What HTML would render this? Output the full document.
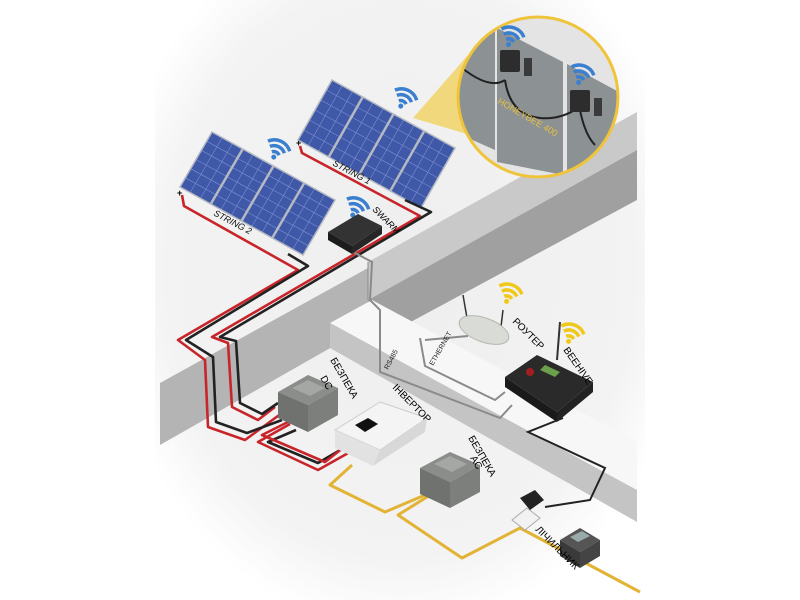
<!DOCTYPE html>
<html><head><meta charset="utf-8"><style>
html,body{margin:0;padding:0;background:#fff}
svg{display:block}
text{font-family:"Liberation Sans","DejaVu Sans",sans-serif}
</style></head><body>
<svg width="800" height="600" viewBox="0 0 800 600" xmlns="http://www.w3.org/2000/svg">
<defs>
<radialGradient id="bg" cx="0.5" cy="0.45" r="0.6">
<stop offset="0" stop-color="#eeeeee"/><stop offset="0.8" stop-color="#f3f3f3"/><stop offset="1" stop-color="#ffffff"/>
</radialGradient>
<g id="wifiB">
<path d="M-12,-2 A16,16 0 0 1 12,-2" fill="none" stroke="#3a7fd0" stroke-width="3.5"/>
<path d="M-8,2 A11,11 0 0 1 8,2" fill="none" stroke="#3a7fd0" stroke-width="3.5"/>
<path d="M-4,6 A6,6 0 0 1 4,6" fill="none" stroke="#3a7fd0" stroke-width="3.5"/>
<circle cx="0" cy="10" r="2.5" fill="#3a7fd0"/>
</g>
<g id="wifiY">
<path d="M-12,-2 A16,16 0 0 1 12,-2" fill="none" stroke="#f0c81a" stroke-width="3.5"/>
<path d="M-8,2 A11,11 0 0 1 8,2" fill="none" stroke="#f0c81a" stroke-width="3.5"/>
<path d="M-4,6 A6,6 0 0 1 4,6" fill="none" stroke="#f0c81a" stroke-width="3.5"/>
<circle cx="0" cy="10" r="2.5" fill="#f0c81a"/>
</g>
<g id="panel">
<rect x="0" y="0" width="1" height="1" fill="#3f58a8"/>
<g stroke="#7d92d0" stroke-width="0.6">
<line x1="0" y1="0.167" x2="1" y2="0.167" vector-effect="non-scaling-stroke"/>
<line x1="0" y1="0.333" x2="1" y2="0.333" vector-effect="non-scaling-stroke"/>
<line x1="0" y1="0.5" x2="1" y2="0.5" vector-effect="non-scaling-stroke"/>
<line x1="0" y1="0.667" x2="1" y2="0.667" vector-effect="non-scaling-stroke"/>
<line x1="0" y1="0.833" x2="1" y2="0.833" vector-effect="non-scaling-stroke"/>
<line x1="0.083" y1="0" x2="0.083" y2="1" vector-effect="non-scaling-stroke"/>
<line x1="0.167" y1="0" x2="0.167" y2="1" vector-effect="non-scaling-stroke"/>
<line x1="0.333" y1="0" x2="0.333" y2="1" vector-effect="non-scaling-stroke"/>
<line x1="0.417" y1="0" x2="0.417" y2="1" vector-effect="non-scaling-stroke"/>
<line x1="0.583" y1="0" x2="0.583" y2="1" vector-effect="non-scaling-stroke"/>
<line x1="0.667" y1="0" x2="0.667" y2="1" vector-effect="non-scaling-stroke"/>
<line x1="0.833" y1="0" x2="0.833" y2="1" vector-effect="non-scaling-stroke"/>
<line x1="0.917" y1="0" x2="0.917" y2="1" vector-effect="non-scaling-stroke"/>
</g>
<g stroke="#b4b9c2" stroke-width="2.5">
<line x1="0.25" y1="0" x2="0.25" y2="1" vector-effect="non-scaling-stroke"/>
<line x1="0.5" y1="0" x2="0.5" y2="1" vector-effect="non-scaling-stroke"/>
<line x1="0.75" y1="0" x2="0.75" y2="1" vector-effect="non-scaling-stroke"/>
<rect x="0" y="0" width="1" height="1" fill="none" vector-effect="non-scaling-stroke" stroke-width="1.5"/>
</g>
</g>
<clipPath id="mag"><circle cx="538" cy="97" r="80"/></clipPath>
</defs>

<rect width="800" height="600" fill="#fff"/>
<rect x="155" y="0" width="490" height="600" fill="url(#bg)"/>

<!-- upper wall -->
<polygon points="368,262 637,112 637,150 368,300" fill="#c9c9c9"/>
<polygon points="368,300 637,150 637,200 368,345" fill="#a0a0a0"/>
<polygon points="160,383 368,268 368,332 332,347 160,445" fill="#b4b4b4"/>
<line x1="368" y1="262" x2="368" y2="300" stroke="#8a8a8a" stroke-width="1"/>
<!-- lower ledge -->
<polygon points="330,323 372,300 637,442 637,490" fill="#f7f7f7"/>
<polygon points="330,323 637,490 637,522 330,348" fill="#c4c4c4"/>

<!-- yellow cone + magnifier -->
<polygon points="413,118 468,55 470,135" fill="#f2cf55" opacity="0.75"/>
<circle cx="538" cy="97" r="80" fill="#e4e4e4"/>
<g clip-path="url(#mag)">
<polygon points="450,5 495,28 495,150 450,130" fill="#8c9293"/>
<polygon points="497,28 563,62 563,175 497,162" fill="#8c9293"/>
<polygon points="567,64 630,98 630,200 567,175" fill="#8c9293"/>
<polygon points="560,200 640,150 640,200" fill="#9a9a9a"/>
<path d="M462,68 Q490,90 505,80 M505,80 Q510,115 540,118 Q560,120 578,108" fill="none" stroke="#222" stroke-width="2"/>
<path d="M580,110 Q585,135 595,145" fill="none" stroke="#222" stroke-width="2"/>
<rect x="500" y="50" width="20" height="22" fill="#2d2d2d" rx="2"/>
<rect x="524" y="58" width="8" height="18" fill="#3a3a3a"/>
<rect x="570" y="90" width="20" height="22" fill="#2d2d2d" rx="2"/>
<rect x="594" y="98" width="8" height="18" fill="#3a3a3a"/>
<text x="0" y="0" font-size="9" fill="#e6c040" transform="translate(497,103) rotate(30)">HONEYBEE 400</text>
</g>
<circle cx="538" cy="97" r="80" fill="none" stroke="#f0c43a" stroke-width="3"/>
<use href="#wifiB" transform="translate(512,35) rotate(20)"/>
<use href="#wifiB" transform="translate(582,73) rotate(20)"/>

<!-- panels -->
<g transform="matrix(123,68,-34,60,332,80)"><use href="#panel"/></g>
<g transform="matrix(123,68,-32,55,212,132)"><use href="#panel"/></g>
<use href="#wifiB" transform="translate(405,97) rotate(25)"/>
<use href="#wifiB" transform="translate(278,148) rotate(25)"/>
<use href="#wifiB" transform="translate(357,206) rotate(25)"/>
<text x="296" y="146" font-size="9" font-weight="bold">+</text>
<text x="177" y="196" font-size="9" font-weight="bold">+</text>

<!-- DC wires -->
<g fill="none" stroke-linejoin="round" stroke-width="2.6">
<polyline stroke="#c8252b" points="300,146 302,153 420,216 212,337 228,343 232,407 258,420 275,407"/>
<polyline stroke="#222" points="405,200 431,212 220,337 236,341 240,403 262,414 278,403"/>
<polyline stroke="#c8252b" points="182,195 184,206 298,270 178,340 205,360 208,427 245,440 282,413"/>
<polyline stroke="#222" points="288,254 308,266 186,340 213,357 216,422 247,433 282,420"/>
<polyline stroke="#c8252b" points="290,424 258,442 318,470 350,452"/>
<polyline stroke="#222" points="296,430 268,442 318,463 347,446"/>
<polyline stroke="#c8252b" points="296,418 262,435 325,462 348,444"/>
</g>
<text font-size="9" font-style="italic" fill="#111" transform="translate(332,165) rotate(28)">STRING 1</text>
<text font-size="9" font-style="italic" fill="#111" transform="translate(213,215) rotate(28)">STRING 2</text>

<!-- gray signal wires -->
<g fill="none" stroke="#8a8a8a" stroke-width="2">
<polyline points="340,245 372,262 370,300 380,310 380,372 500,418 512,405"/>
<polyline points="420,338 425,366 495,400 505,392"/>
<polyline points="468,336 425,340"/>
</g>
<text font-size="7" fill="#222" transform="translate(388,370) rotate(-62)">RS485</text>
<text font-size="7" fill="#222" transform="translate(433,366) rotate(-60)">ETHERNET</text>

<!-- SWARM -->
<polygon points="328,232 358,214 382,226 352,246" fill="#333"/>
<polygon points="328,232 352,246 352,254 328,240" fill="#1c1c1c"/>
<polygon points="352,246 382,226 382,234 352,254" fill="#262626"/>
<text font-size="9" font-style="italic" transform="translate(372,210) rotate(45)">SWARM</text>

<!-- router -->
<line x1="467" y1="318" x2="463" y2="295" stroke="#333" stroke-width="1.5"/>
<line x1="500" y1="335" x2="503" y2="310" stroke="#333" stroke-width="1.5"/>
<ellipse cx="484" cy="330" rx="26" ry="12" transform="rotate(20 484 330)" fill="#d9dbd6" stroke="#b4b6b0"/>
<use href="#wifiY" transform="translate(510,292) rotate(20)"/>
<text font-size="10" transform="translate(512,322) rotate(45)">РОУТЕР</text>

<!-- beehive -->
<line x1="557" y1="360" x2="560" y2="322" stroke="#333" stroke-width="2"/>
<polygon points="505,377 537,355 593,382 557,412" fill="#2a2a2a"/>
<polygon points="505,377 557,412 557,422 505,387" fill="#1a1a1a"/>
<polygon points="557,412 593,382 593,392 557,422" fill="#222"/>
<polygon points="545,365 560,372 555,377 540,370" fill="#6aa04a"/>
<circle cx="530" cy="372" r="4" fill="#a02020"/>
<use href="#wifiY" transform="translate(572,332) rotate(20)"/>
<text font-size="10" transform="translate(563,350) rotate(55)">BEEHIVE</text>

<!-- black wire to plug -->
<polyline points="563,418 528,432 605,468 590,500 545,507" fill="none" stroke="#222" stroke-width="2"/>

<!-- yellow AC wires -->
<g fill="none" stroke="#e2b335" stroke-width="3" stroke-linejoin="round">
<polyline points="352,465 330,485 385,512 425,495"/>
<polyline points="435,492 398,515 462,558 520,528 640,592"/>
</g>

<!-- DC box -->
<polygon points="278,392 308,375 338,388 308,405" fill="#8a8d8a"/>
<polygon points="278,392 308,405 308,432 278,418" fill="#6f726f"/>
<polygon points="308,405 338,388 338,415 308,432" fill="#7c7f7c"/>
<polygon points="292,388 308,380 325,388 310,396" fill="#a4a7a4"/>
<text font-size="10" transform="translate(330,360) rotate(60)">БЕЗПЕКА</text>
<text font-size="10" transform="translate(320,378) rotate(60)">DC</text>

<!-- inverter -->
<polygon points="335,430 380,402 427,418 380,450" fill="#f4f4f4" stroke="#ccc"/>
<polygon points="335,430 380,450 373,466 335,448" fill="#e2e2e2"/>
<polygon points="380,450 427,418 425,432 373,466" fill="#d8d8d8"/>
<polygon points="355,425 368,418 378,424 365,432" fill="#111"/>
<text font-size="10" transform="translate(392,388) rotate(45)">ІНВЕРТОР</text>

<!-- AC box -->
<polygon points="420,468 450,452 480,465 450,482" fill="#8a8d8a"/>
<polygon points="420,468 450,482 450,508 420,494" fill="#6f726f"/>
<polygon points="450,482 480,465 480,492 450,508" fill="#7c7f7c"/>
<polygon points="434,464 450,456 467,464 452,472" fill="#a4a7a4"/>
<text font-size="10" transform="translate(468,438) rotate(60)">БЕЗПЕКА</text>
<text font-size="10" transform="translate(470,458) rotate(60)">AC</text>

<!-- plug / socket -->
<polygon points="512,520 527,508 540,518 525,530" fill="#f2f2f2" stroke="#aaa"/>
<path d="M520,498 L535,490 L544,500 L530,510 Z" fill="#222"/>
<!-- meter -->
<polygon points="560,540 580,528 600,540 580,552" fill="#555"/>
<polygon points="560,540 580,552 580,568 560,556" fill="#3a3a3a"/>
<polygon points="580,552 600,540 600,556 580,568" fill="#444"/>
<polygon points="570,537 582,531 590,536 578,542" fill="#9aa"/>
<text font-size="10" transform="translate(535,530) rotate(45)">ЛІЧИЛЬНИК</text>
</svg>
</body></html>
